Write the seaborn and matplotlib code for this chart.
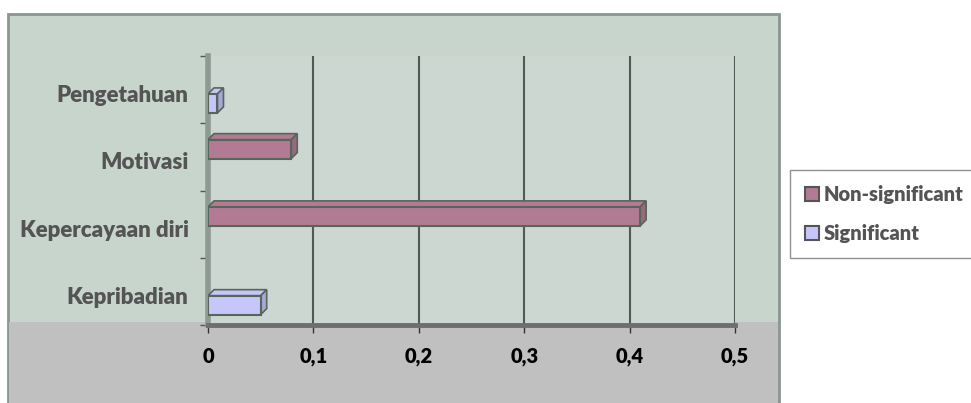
import pandas as pd
import numpy as np
import matplotlib.pyplot as plt
import seaborn as sns
from matplotlib.patches import Rectangle, Polygon
from matplotlib.transforms import ScaledTranslation

# data
categories = ['Pengetahuan', 'Motivasi', 'Kepercayaan diri', 'Kepribadian']
values = [0.009, 0.079, 0.41, 0.05]
groups = ['Significant', 'Non-significant', 'Non-significant', 'Significant']
x_ticks = [0, 0.1, 0.2, 0.3, 0.4, 0.5]
x_tick_labels = ['0', '0,1', '0,2', '0,3', '0,4', '0,5']

df = pd.DataFrame({'kategori': categories, 'nilai': values, 'grup': groups})

sns.set_style('white')
plt.rcParams['font.family'] = ['Lato', 'DejaVu Sans']

W, H = 971, 403
fig = plt.figure(figsize=(W / 100, H / 100), dpi=100)
fig.patch.set_facecolor('white')

# chart area background (greenish wall + gray floor band)
fig.patches.append(Rectangle((8 / W, 0), (779 - 8) / W, (H - 14) / H,
                             transform=fig.transFigure, facecolor='#c8d5cd',
                             edgecolor='#8c9690', linewidth=2, zorder=-10))
fig.patches.append(Rectangle((9 / W, 0), (778 - 9) / W, (H - 322) / H,
                             transform=fig.transFigure, facecolor='#c0c0c0',
                             edgecolor='none', zorder=-9))

ax = fig.add_axes([208 / W, (H - 325) / H, (735 - 208) / W, (325 - 56) / H])
ax.set_zorder(1)
ax.set_facecolor('#cbd7d0')

pal = {'Non-significant': '#b27b93', 'Significant': '#c6c6fb'}
sns.barplot(data=df, y='kategori', x='nilai', hue='grup', order=categories,
            hue_order=['Non-significant', 'Significant'], palette=pal,
            dodge=True, width=0.64, gap=0.12, orient='h', edgecolor='#56665c',
            linewidth=1.5, saturation=1, ax=ax, legend=False, zorder=3)

ax.set_xlim(0, 0.5)
ax.set_ylim(3.5, -0.5)

# simple 3D look: top and side faces derived from each bar
off = ScaledTranslation(6 / 100, 6 / 100, fig.dpi_scale_trans)
down = ScaledTranslation(0, -3 / 100, fig.dpi_scale_trans)
inv = ax.transData.inverted()
for p in list(ax.patches):
    x0, y0 = p.get_x(), p.get_y()
    w, h = p.get_width(), p.get_height()
    if not np.isfinite(w) or w <= 0:
        continue
    fc = p.get_facecolor()
    corners = [[x0, y0], [x0 + w, y0], [x0 + w, y0 + h]]
    f = np.array(corners)
    b = inv.transform((ax.transData + off).transform(corners))
    top = Polygon([f[0], f[1], b[1], b[0]], closed=True, facecolor=fc,
                  edgecolor='#56665c', linewidth=1.2, zorder=2.9)
    side = Polygon([f[1], f[2], b[2], b[1]], closed=True,
                   facecolor=tuple(np.clip(np.array(fc[:3]) * 0.85, 0, 1)),
                   edgecolor='#56665c', linewidth=1.2, zorder=2.9)
    for patch in (p, top, side):
        patch.set_transform(ax.transData + down)
    ax.add_patch(top)
    ax.add_patch(side)
    top.set_transform(ax.transData + down)
    side.set_transform(ax.transData + down)

ax.set_xticks(x_ticks)
ax.set_xticklabels(x_tick_labels, fontsize=14.5, fontweight='heavy', color='black')
ax.set_yticks(range(len(categories)))
ax.set_yticklabels(categories, fontsize=16, fontweight='heavy', color='#545454')
ax.set_yticks(np.arange(-0.5, 4, 1), minor=True)
ax.tick_params(axis='y', which='major', length=0, pad=14)
ax.tick_params(axis='y', which='minor', length=6, width=1, color='#555555',
               direction='out', left=True)
ax.tick_params(axis='x', length=6, width=1, color='#333333', direction='out',
               bottom=True, pad=10)
ax.set_xlabel('')
ax.set_ylabel('')
shift = ScaledTranslation(0, -4 / 100, fig.dpi_scale_trans)
for lab in ax.get_yticklabels():
    lab.set_transform(lab.get_transform() + shift)

ax.xaxis.grid(True, color='#505a54', linewidth=1.5, zorder=1)
ax.set_axisbelow(True)
for s in ['top', 'right']:
    ax.spines[s].set_visible(False)
ax.spines['left'].set_color('#8f9993')
ax.spines['left'].set_linewidth(4)
ax.spines['bottom'].set_color('#6e6e6e')
ax.spines['bottom'].set_linewidth(3.5)

# legend
handles = [Rectangle((0, 0), 1, 1, facecolor=pal['Non-significant'], edgecolor='#555555', linewidth=1.5),
           Rectangle((0, 0), 1, 1, facecolor=pal['Significant'], edgecolor='#555555', linewidth=1.5)]
leg = fig.legend(handles, ['Non-significant', 'Significant'],
                 loc='upper left', bbox_to_anchor=(790 / W, (H - 170) / H),
                 frameon=True, fancybox=False, edgecolor='#777777',
                 prop={'family': ['Lato', 'DejaVu Sans'], 'weight': 'heavy', 'size': 14.5},
                 handlelength=0.7, handleheight=0.7, handletextpad=0.2,
                 labelspacing=1.0, borderpad=0.75, borderaxespad=0)
for t in leg.get_texts():
    t.set_color('#545454')

fig.savefig('out.png', dpi=100)
